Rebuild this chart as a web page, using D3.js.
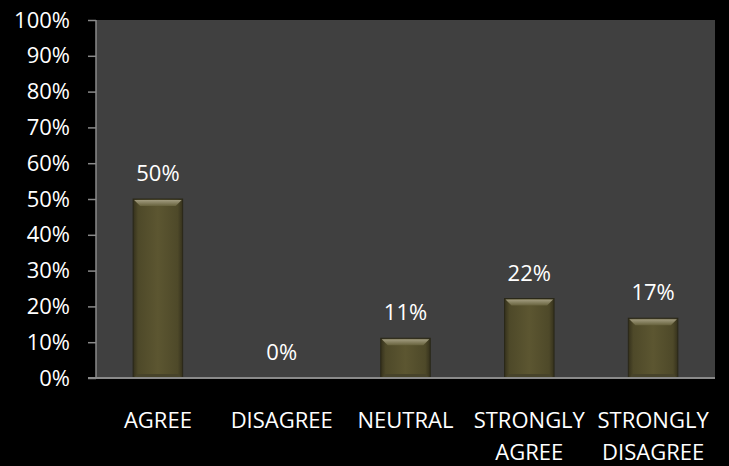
<!DOCTYPE html>
<html><head><meta charset="utf-8">
<script src="https://cdn.jsdelivr.net/npm/d3@7"></script>
<style>html,body{margin:0;padding:0;background:#000;}svg{display:block;}</style>
</head><body>
<svg id="chart" width="729" height="466"></svg>
<script>
const categories = ["AGREE", "DISAGREE", "NEUTRAL", "STRONGLY AGREE", "STRONGLY DISAGREE"];
const categoryLines = [["AGREE"], ["DISAGREE"], ["NEUTRAL"], ["STRONGLY", "AGREE"], ["STRONGLY", "DISAGREE"]];
const values = [50, 0, 11.1, 22.2, 16.7];
const yTicks = [0, 10, 20, 30, 40, 50, 60, 70, 80, 90, 100];

const svg = d3.select("#chart");
const W = 729, H = 466;
const m = {left: 96, right: 14, top: 20, bottom: 88};
const font = "'Open Sans', sans-serif";

svg.append("rect").attr("width", W).attr("height", H).attr("fill", "#000");

const x = d3.scaleBand().domain(categories).range([m.left, W - m.right]).paddingInner(0.6).paddingOuter(0.3);
const y = d3.scaleLinear().domain([0, 100]).range([H - m.bottom, m.top]);

svg.append("rect").attr("x", m.left).attr("y", m.top)
  .attr("width", W - m.right - m.left).attr("height", y(0) - m.top).attr("fill", "#404040");

const defs = svg.append("defs");
const hg = defs.append("linearGradient").attr("id", "barH").attr("x1", 0).attr("x2", 1).attr("y1", 0).attr("y2", 0);
[[0, "#35311c"], [0.1, "#4e4929"], [0.5, "#5c5631"], [0.9, "#4e4929"], [1, "#35311c"]]
  .forEach(([o, c]) => hg.append("stop").attr("offset", o).attr("stop-color", c));
const tg = defs.append("linearGradient").attr("id", "barTop").attr("x1", 0).attr("x2", 0).attr("y1", 0).attr("y2", 1);
[[0, "#a29c80"], [1, "#67623d"]].forEach(([o, c]) => tg.append("stop").attr("offset", o).attr("stop-color", c));

// axes
const yAxis = d3.axisLeft(y).tickValues(yTicks).tickSize(8).tickPadding(18).tickFormat(d => d + "%");
const gy = svg.append("g").attr("transform", `translate(${m.left},0)`).call(yAxis);
gy.select(".domain").attr("stroke", "#8a8a8a").attr("stroke-width", 1.5).attr("d", `M0,${m.top}V${y(0)}`);
gy.selectAll(".tick line").attr("stroke", "#8a8a8a").attr("stroke-width", 1.5);
gy.selectAll(".tick text").attr("fill", "#fff").style("font-family", font).style("font-size", "22px");

// bars
const bev = 7;
const bars = svg.append("g").selectAll("g").data(values).join("g");
bars.each(function(v, i) {
  const g = d3.select(this);
  const x0 = x(categories[i]), w = x.bandwidth(), y0 = y(v), h = y(0) - y(v);
  if (h <= 0) return;
  g.append("rect").attr("x", x0).attr("y", y0).attr("width", w).attr("height", h)
    .attr("fill", "url(#barH)").attr("stroke", "#2a2818").attr("stroke-width", 1);
  const b = Math.min(bev, h / 2);
  g.append("path").attr("d", `M${x0 + 1},${y0 + 1}H${x0 + w - 1}L${x0 + w - b},${y0 + b}H${x0 + b}Z`).attr("fill", "url(#barTop)");
  g.append("path").attr("d", `M${x0 + 1},${y0 + h}H${x0 + w - 1}L${x0 + w - 4},${y0 + h - 4}H${x0 + 4}Z`).attr("fill", "#47432a");
});

// x axis line
svg.append("line").attr("x1", m.left - 8).attr("x2", W - m.right).attr("y1", y(0)).attr("y2", y(0))
  .attr("stroke", "#8a8a8a").attr("stroke-width", 2);

// data labels
svg.append("g").selectAll("text").data(values).join("text")
  .attr("x", (d, i) => x(categories[i]) + x.bandwidth() / 2)
  .attr("y", d => y(d) - 18)
  .attr("text-anchor", "middle").attr("fill", "#fff")
  .style("font-family", font).style("font-size", "22px")
  .text(d => Math.round(d) + "%");

// category labels
const cl = svg.append("g").selectAll("text").data(categories).join("text")
  .attr("text-anchor", "middle").attr("fill", "#fff")
  .style("font-family", font).style("font-size", "22px")
  .attr("transform", d => `translate(${x(d) + x.bandwidth() / 2},428)`);
cl.each(function(d, i) {
  d3.select(this).selectAll("tspan").data(categoryLines[i]).join("tspan")
    .attr("x", 0).attr("y", (t, j) => j * 32).text(t => t);
});
</script>
</body></html>
